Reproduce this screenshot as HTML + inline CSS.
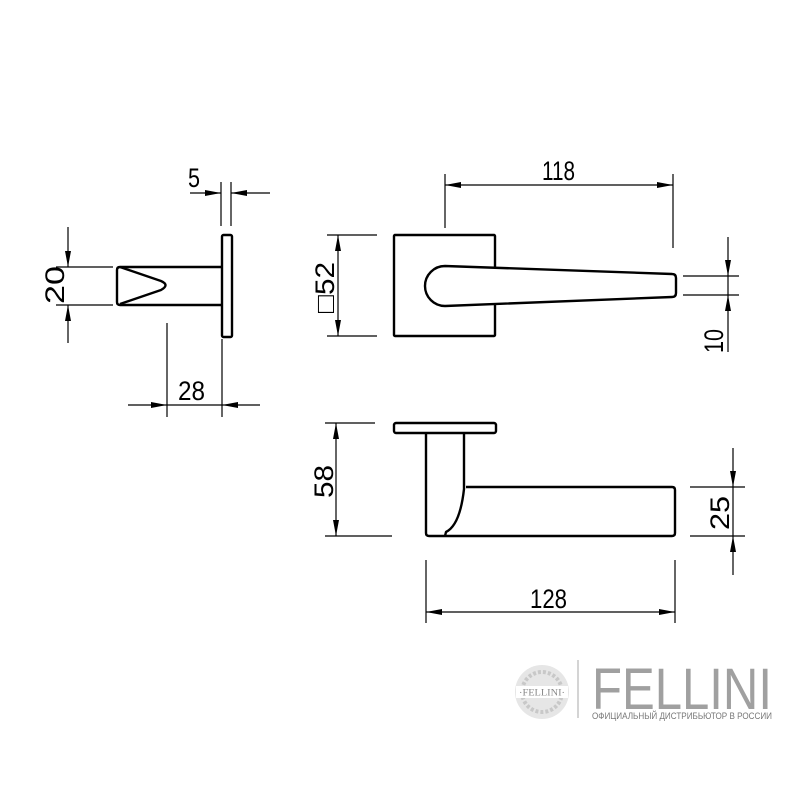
<!DOCTYPE html>
<html><head><meta charset="utf-8"><style>html,body{margin:0;padding:0;background:#fff}svg{display:block}</style></head>
<body>
<svg width="800" height="800" viewBox="0 0 800 800" xmlns="http://www.w3.org/2000/svg">
<defs>
<marker id="a" viewBox="0 0 16 8" refX="16" refY="4" markerWidth="16" markerHeight="8" markerUnits="userSpaceOnUse" orient="auto"><path d="M0,1 L16,4 L0,7 Z" fill="#000"/></marker>
</defs>
<g fill="none" stroke="#000" stroke-width="1.2">
<line x1="221" y1="182" x2="221" y2="226"/><line x1="231" y1="182" x2="231" y2="226"/>
<line x1="190" y1="193" x2="221" y2="193" marker-end="url(#a)"/>
<line x1="270" y1="193" x2="231" y2="193" marker-end="url(#a)"/>
<line x1="56" y1="267" x2="113" y2="267"/><line x1="56" y1="305" x2="113" y2="305"/>
<line x1="68" y1="227" x2="68" y2="267" marker-end="url(#a)"/>
<line x1="68" y1="343" x2="68" y2="305" marker-end="url(#a)"/>
<line x1="167" y1="323" x2="167" y2="417"/><line x1="222" y1="339" x2="222" y2="417"/>
<line x1="128" y1="405" x2="167" y2="405" marker-end="url(#a)"/>
<line x1="260" y1="405" x2="222" y2="405" marker-end="url(#a)"/>
<line x1="167" y1="405" x2="222" y2="405"/>
<line x1="445" y1="174" x2="445" y2="228"/><line x1="673" y1="174" x2="673" y2="248"/>
<line x1="560" y1="185" x2="445" y2="185" marker-end="url(#a)"/>
<line x1="560" y1="185" x2="673" y2="185" marker-end="url(#a)"/>
<line x1="327" y1="235" x2="377" y2="235"/><line x1="327" y1="336" x2="377" y2="336"/>
<line x1="338" y1="286" x2="338" y2="235" marker-end="url(#a)"/>
<line x1="338" y1="286" x2="338" y2="336" marker-end="url(#a)"/>
<line x1="683" y1="276" x2="739" y2="276"/><line x1="683" y1="295" x2="739" y2="295"/>
<line x1="728" y1="237" x2="728" y2="276" marker-end="url(#a)"/>
<line x1="728" y1="352" x2="728" y2="295" marker-end="url(#a)"/>
<line x1="728" y1="276" x2="728" y2="295"/>
<line x1="325" y1="423" x2="375" y2="423"/><line x1="325" y1="536" x2="392" y2="536"/>
<line x1="336" y1="480" x2="336" y2="423" marker-end="url(#a)"/>
<line x1="336" y1="480" x2="336" y2="536" marker-end="url(#a)"/>
<line x1="690" y1="487" x2="745" y2="487"/><line x1="690" y1="536" x2="745" y2="536"/>
<line x1="733" y1="448" x2="733" y2="487" marker-end="url(#a)"/>
<line x1="733" y1="575" x2="733" y2="536" marker-end="url(#a)"/>
<line x1="733" y1="487" x2="733" y2="536"/>
<line x1="426" y1="560" x2="426" y2="623"/><line x1="675" y1="560" x2="675" y2="623"/>
<line x1="550" y1="612" x2="426" y2="612" marker-end="url(#a)"/>
<line x1="550" y1="612" x2="675" y2="612" marker-end="url(#a)"/>
</g>
<g fill="none" stroke="#000" stroke-width="2.4" stroke-linejoin="round">
<rect x="222" y="235" width="10" height="102" rx="1.5"/>
<path d="M222,267 H120 Q117,267 117,270 V302 Q117,305 120,305 H222"/>
<path d="M120,267 L161,281 Q170,285 161,290 L120,304"/>
<rect x="394" y="235" width="101" height="101" rx="1"/>
<path d="M445,266 L672,274 Q676,274 676,278 V293 Q676,297 672,297 L445,306 A20,20 0 0 1 445,266 Z" fill="#fff"/>
<rect x="394" y="423" width="102" height="10" rx="2"/>
<path d="M426,433 V533 Q426,536 429,536 H672 Q675,536 675,533 V490 Q675,487 672,487 H466"/>
<path d="M464,433 V489 Q460,525 446,532 L445,536"/>
</g>
<g font-family="Liberation Sans, sans-serif" font-size="27" fill="#000">
<text x="188" y="187" textLength="12" lengthAdjust="spacingAndGlyphs">5</text>
<text x="178" y="400" textLength="27" lengthAdjust="spacingAndGlyphs">28</text>
<text x="542" y="180" textLength="33" lengthAdjust="spacingAndGlyphs">118</text>
<text x="530" y="608" textLength="37" lengthAdjust="spacingAndGlyphs">128</text>
<text transform="translate(64,304) rotate(-90)" textLength="38" lengthAdjust="spacingAndGlyphs">20</text>
<text transform="translate(334,313) rotate(-90)" textLength="51" lengthAdjust="spacingAndGlyphs">□52</text>
<text transform="translate(723,353) rotate(-90)" textLength="24" lengthAdjust="spacingAndGlyphs">10</text>
<text transform="translate(333,498) rotate(-90)" textLength="33" lengthAdjust="spacingAndGlyphs">58</text>
<text transform="translate(729,530) rotate(-90)" textLength="34" lengthAdjust="spacingAndGlyphs">25</text>
</g>
<g>
<circle cx="542" cy="692" r="27" fill="#e6e6e6"/>
<circle cx="542" cy="692" r="20" fill="none" stroke="#c8c8c8" stroke-width="4" stroke-dasharray="3 2"/>
<rect x="516" y="686" width="52" height="12" fill="#fff"/>
<text x="542" y="695.5" font-family="Liberation Serif, serif" font-size="9" fill="#888" text-anchor="middle" textLength="46" lengthAdjust="spacingAndGlyphs">·FELLINI·</text>
<line x1="578" y1="660" x2="578" y2="718" stroke="#aaa" stroke-width="1"/>
<text x="592" y="709" font-family="Liberation Sans, sans-serif" font-size="58" fill="#a0a0a0" textLength="180" lengthAdjust="spacingAndGlyphs">FELLINI</text>
<text x="592" y="719" font-family="Liberation Sans, sans-serif" font-size="9" fill="#777" textLength="180" lengthAdjust="spacingAndGlyphs">ОФИЦИАЛЬНЫЙ ДИСТРИБЬЮТОР В РОССИИ</text>
</g>
</svg>
</body></html>
